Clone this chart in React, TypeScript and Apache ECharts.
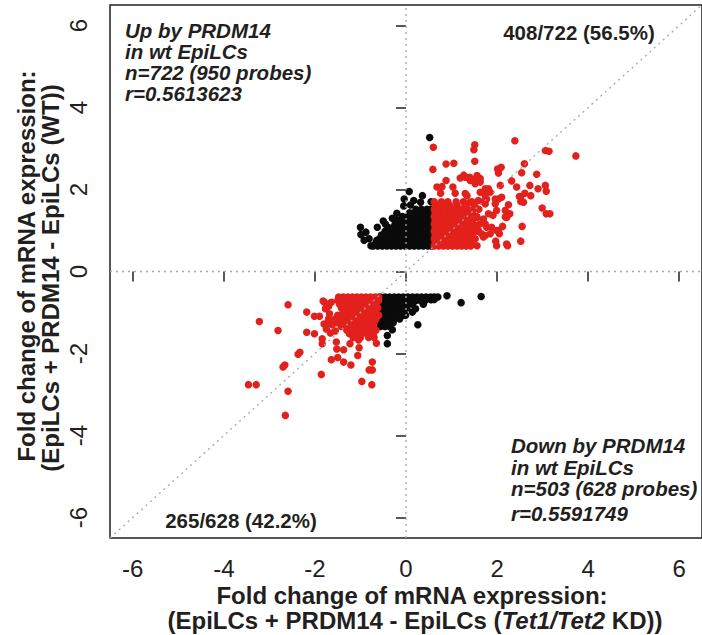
import React, { useEffect, useRef } from "react";
import * as echarts from "echarts";

const tickValues = [-6, -4, -2, 0, 2, 4, 6];
const axisMin = -6.5;
const axisMax = 6.5;

// Up by PRDM14, not up in Tet1/Tet2 KD (black)
const upBlack: number[][] = [
  [-0.72, 0.62], [-0.62, 0.62], [-0.52, 0.62], [-0.42, 0.62], [-0.32, 0.62], [-0.22, 0.62], [-0.12, 0.62], [-0.02, 0.62], [0.08, 0.62], [0.18, 0.62], [0.28, 0.62], [0.38, 0.62], [0.48, 0.62], [0.56, 0.62],
  [-0.66, 0.71], [-0.56, 0.71], [-0.46, 0.71], [-0.36, 0.71], [-0.26, 0.71], [-0.16, 0.71], [-0.06, 0.71], [0.04, 0.71], [0.14, 0.71], [0.24, 0.71], [0.34, 0.71], [0.44, 0.71], [0.54, 0.71],
  [-0.58, 0.8], [-0.48, 0.8], [-0.38, 0.8], [-0.28, 0.8], [-0.18, 0.8], [-0.08, 0.8], [0.02, 0.8], [0.12, 0.8], [0.22, 0.8], [0.32, 0.8], [0.42, 0.8], [0.52, 0.8],
  [-0.54, 0.89], [-0.44, 0.89], [-0.34, 0.89], [-0.24, 0.89], [-0.14, 0.89], [-0.04, 0.89], [0.06, 0.89], [0.16, 0.89], [0.26, 0.89], [0.36, 0.89], [0.46, 0.89], [0.56, 0.89],
  [-0.46, 0.98], [-0.36, 0.98], [-0.26, 0.98], [-0.16, 0.98], [-0.06, 0.98], [0.04, 0.98], [0.14, 0.98], [0.24, 0.98], [0.34, 0.98], [0.44, 0.98], [0.54, 0.98],
  [-0.38, 1.07], [-0.28, 1.07], [-0.18, 1.07], [-0.08, 1.07], [0.02, 1.07], [0.12, 1.07], [0.22, 1.07], [0.32, 1.07], [0.42, 1.07], [0.52, 1.07],
  [-0.24, 1.16], [-0.14, 1.16], [-0.04, 1.16], [0.06, 1.16], [0.16, 1.16], [0.26, 1.16], [0.36, 1.16], [0.46, 1.16], [0.56, 1.16],
  [-0.2, 1.25], [-0.1, 1.25], [0.0, 1.25], [0.1, 1.25], [0.2, 1.25], [0.3, 1.25], [0.4, 1.25], [0.5, 1.25],
  [-0.08, 1.34], [0.04, 1.34], [0.14, 1.34], [0.24, 1.34], [0.34, 1.34], [0.44, 1.34], [0.54, 1.34],
  [0.08, 1.43], [0.2, 1.43], [0.3, 1.43], [0.4, 1.43], [0.5, 1.43],
  [0.22, 1.52], [0.34, 1.52], [0.46, 1.52], [0.55, 1.52],
  [0.52, 3.27], [0.07, 1.95], [-0.04, 1.77], [0.17, 1.73], [0.36, 1.85], [0.32, 1.69], [0.55, 1.7],
  [-1.0, 1.08], [-0.99, 0.9], [-0.88, 0.96], [-0.81, 0.8], [-0.92, 0.76], [-0.77, 0.63], [-0.63, 1.08],
  [-0.5, 1.23], [-0.64, 0.76], [-0.3, 1.3], [-0.45, 1.15], [-0.2, 1.42], [-0.05, 1.6], [0.1, 1.62],
];

// Up by PRDM14, also up in Tet1/Tet2 KD (red)
const upRed: number[][] = [
  [0.62, 0.62], [0.72, 0.62], [0.82, 0.62], [0.92, 0.62], [1.02, 0.62], [1.12, 0.62], [1.22, 0.62], [1.32, 0.62], [1.42, 0.62],
  [0.64, 0.71], [0.74, 0.71], [0.84, 0.71], [0.94, 0.71], [1.04, 0.71], [1.14, 0.71], [1.24, 0.71], [1.34, 0.71], [1.44, 0.71],
  [0.62, 0.8], [0.72, 0.8], [0.82, 0.8], [0.92, 0.8], [1.02, 0.8], [1.12, 0.8], [1.22, 0.8], [1.32, 0.8], [1.42, 0.8], [1.52, 0.8],
  [0.64, 0.89], [0.74, 0.89], [0.84, 0.89], [0.94, 0.89], [1.04, 0.89], [1.14, 0.89], [1.24, 0.89], [1.34, 0.89], [1.46, 0.89],
  [0.62, 0.98], [0.72, 0.98], [0.82, 0.98], [0.92, 0.98], [1.02, 0.98], [1.12, 0.98], [1.22, 0.98], [1.32, 0.98], [1.42, 0.98], [1.58, 0.98],
  [0.64, 1.07], [0.74, 1.07], [0.84, 1.07], [0.94, 1.07], [1.04, 1.07], [1.14, 1.07], [1.24, 1.07], [1.36, 1.07], [1.5, 1.07],
  [0.62, 1.16], [0.72, 1.16], [0.82, 1.16], [0.92, 1.16], [1.02, 1.16], [1.12, 1.16], [1.22, 1.16], [1.34, 1.16], [1.62, 1.16],
  [0.64, 1.25], [0.74, 1.25], [0.84, 1.25], [0.96, 1.25], [1.06, 1.25], [1.18, 1.25], [1.3, 1.25], [1.45, 1.25],
  [0.62, 1.34], [0.72, 1.34], [0.84, 1.34], [0.94, 1.34], [1.08, 1.34], [1.2, 1.34], [1.38, 1.34], [1.55, 1.34],
  [0.64, 1.43], [0.76, 1.43], [0.88, 1.43], [1.0, 1.43], [1.14, 1.43], [1.28, 1.43], [1.46, 1.43],
  [0.62, 1.52], [0.74, 1.52], [0.9, 1.52], [1.04, 1.52], [1.2, 1.52], [1.36, 1.52], [1.6, 1.52],
  [0.66, 1.61], [0.8, 1.61], [0.96, 1.61], [1.12, 1.61], [1.3, 1.61], [1.5, 1.61],
  [0.62, 1.7], [0.78, 1.7], [0.92, 1.7], [1.1, 1.7], [1.26, 1.7], [1.45, 1.7], [1.7, 1.7],
  [0.6, 3.03], [1.51, 3.09], [1.49, 2.97], [2.39, 3.19], [3.06, 2.95], [3.14, 2.93], [3.73, 2.82],
  [0.88, 2.62], [1.05, 2.64], [1.51, 2.69], [0.59, 2.49], [2.09, 2.54], [2.01, 2.5], [2.03, 2.4],
  [2.6, 2.63], [2.54, 2.41], [2.87, 2.37], [1.27, 2.35], [1.19, 2.28], [1.4, 2.3], [1.52, 2.25],
  [1.63, 2.27], [0.88, 2.22], [2.32, 2.21], [2.43, 2.06], [2.72, 2.1], [2.9, 2.02], [3.06, 2.1],
  [3.08, 1.96], [2.52, 1.83], [2.74, 1.85], [2.58, 1.69], [2.99, 1.55], [3.08, 1.41], [3.16, 1.41],
  [2.55, 1.1], [2.52, 0.74], [2.23, 0.63], [1.97, 0.74], [2.07, 2.1], [0.68, 2.06], [0.79, 2.07],
  [0.76, 1.91], [1.03, 2.06], [1.08, 1.91], [1.3, 1.9], [1.74, 2.02], [1.85, 1.93], [1.77, 1.77],
  [1.96, 1.77], [2.1, 1.81], [2.25, 1.63], [2.28, 1.41], [2.18, 1.33], [1.88, 1.08], [2.03, 1.0],
  [1.85, 0.92], [1.74, 0.88], [2.49, 1.83], [2.61, 1.91], [2.52, 1.71], [2.21, 0.67], [2.12, 1.1],
  [1.99, 1.0], [2.05, 0.92], [2.18, 1.49], [2.21, 1.32], [1.99, 1.49], [1.91, 1.37], [1.81, 1.41],
  [2.03, 1.77], [1.96, 1.65], [1.74, 1.65], [1.63, 1.93], [1.81, 2.02], [1.74, 1.85], [1.59, 1.73],
  [1.52, 2.14], [1.63, 2.18], [1.41, 2.22], [1.3, 2.3], [1.56, 2.34], [1.34, 1.85], [1.41, 1.69],
  [1.52, 1.57], [1.45, 1.45], [1.56, 1.32], [1.7, 1.28], [1.77, 1.08], [1.66, 0.92], [1.59, 1.0],
  [1.7, 0.84], [1.48, 1.16], [1.34, 1.24], [1.37, 1.0], [1.41, 0.76], [1.56, 0.63], [1.99, 0.63],
  [1.74, 1.16],
];

// Down by PRDM14, not down in Tet1/Tet2 KD (black)
const downBlack: number[][] = [
  [-0.56, -0.62], [-0.46, -0.62], [-0.36, -0.62], [-0.26, -0.62], [-0.16, -0.62], [-0.06, -0.62], [0.04, -0.62], [0.14, -0.62], [0.24, -0.62], [0.34, -0.62], [0.44, -0.62], [0.54, -0.62], [0.62, -0.62],
  [-0.58, -0.71], [-0.48, -0.71], [-0.38, -0.71], [-0.28, -0.71], [-0.18, -0.71], [-0.08, -0.71], [0.02, -0.71], [0.12, -0.71], [0.22, -0.71], [0.32, -0.71], [0.42, -0.71],
  [-0.56, -0.8], [-0.46, -0.8], [-0.36, -0.8], [-0.26, -0.8], [-0.16, -0.8], [-0.06, -0.8], [0.04, -0.8], [0.14, -0.8],
  [-0.58, -0.89], [-0.48, -0.89], [-0.38, -0.89], [-0.28, -0.89], [-0.18, -0.89], [-0.08, -0.89], [0.02, -0.89],
  [-0.56, -0.98], [-0.46, -0.98], [-0.36, -0.98], [-0.26, -0.98], [-0.16, -0.98], [-0.06, -0.98],
  [-0.58, -1.07], [-0.48, -1.07], [-0.38, -1.07], [-0.28, -1.07], [-0.18, -1.07], [-0.06, -1.07],
  [-0.56, -1.16], [-0.46, -1.16], [-0.36, -1.16], [-0.26, -1.16], [-0.14, -1.16],
  [-0.58, -1.25], [-0.48, -1.25], [-0.38, -1.25], [-0.28, -1.25],
  [-0.56, -1.34], [-0.46, -1.34], [-0.36, -1.34],
  [0.9, -0.59], [1.21, -0.76], [1.65, -0.61], [0.26, -1.3], [-0.41, -1.56], [-0.41, -1.76], [-0.3, -1.42],
  [-0.01, -1.07], [0.14, -0.99], [0.21, -0.91], [0.38, -0.8], [0.55, -0.69], [0.7, -0.62], [0.62, -0.68],
];

// Down by PRDM14, also down in Tet1/Tet2 KD (red)
const downRed: number[][] = [
  [-1.48, -0.62], [-1.38, -0.62], [-1.28, -0.62], [-1.18, -0.62], [-1.08, -0.62], [-0.98, -0.62], [-0.88, -0.62], [-0.78, -0.62], [-0.68, -0.62], [-0.6, -0.62],
  [-1.5, -0.71], [-1.4, -0.71], [-1.3, -0.71], [-1.2, -0.71], [-1.1, -0.71], [-1.0, -0.71], [-0.9, -0.71], [-0.8, -0.71], [-0.7, -0.71], [-0.6, -0.71],
  [-1.46, -0.8], [-1.36, -0.8], [-1.26, -0.8], [-1.16, -0.8], [-1.06, -0.8], [-0.96, -0.8], [-0.86, -0.8], [-0.76, -0.8], [-0.66, -0.8],
  [-1.42, -0.89], [-1.32, -0.89], [-1.22, -0.89], [-1.12, -0.89], [-1.02, -0.89], [-0.92, -0.89], [-0.82, -0.89], [-0.72, -0.89], [-0.62, -0.89],
  [-1.38, -0.98], [-1.28, -0.98], [-1.18, -0.98], [-1.08, -0.98], [-0.98, -0.98], [-0.88, -0.98], [-0.78, -0.98], [-0.68, -0.98],
  [-1.5, -1.07], [-1.4, -1.07], [-1.3, -1.07], [-1.2, -1.07], [-1.1, -1.07], [-1.0, -1.07], [-0.9, -1.07], [-0.8, -1.07], [-0.7, -1.07], [-0.6, -1.07],
  [-1.56, -1.16], [-1.46, -1.16], [-1.36, -1.16], [-1.26, -1.16], [-1.16, -1.16], [-1.06, -1.16], [-0.96, -1.16], [-0.86, -1.16], [-0.76, -1.16], [-0.66, -1.16],
  [-1.6, -1.25], [-1.5, -1.25], [-1.4, -1.25], [-1.3, -1.25], [-1.2, -1.25], [-1.1, -1.25], [-1.0, -1.25], [-0.9, -1.25], [-0.8, -1.25], [-0.7, -1.25],
  [-1.42, -1.34], [-1.32, -1.34], [-1.22, -1.34], [-1.12, -1.34], [-1.02, -1.34], [-0.92, -1.34], [-0.82, -1.34], [-0.72, -1.34],
  [-1.3, -1.43], [-1.2, -1.43], [-1.06, -1.43], [-0.96, -1.43], [-0.86, -1.43], [-0.76, -1.43], [-0.66, -1.43],
  [-1.24, -1.52], [-1.1, -1.52], [-0.96, -1.52], [-0.84, -1.52], [-0.72, -1.52],
  [-1.16, -1.61], [-1.0, -1.61], [-0.82, -1.61], [-0.7, -1.61],
  [-1.7, -1.15], [-1.62, -1.3], [-1.75, -1.4], [-1.66, -1.5], [-1.8, -1.28], [-1.55, -1.45],
  [-1.82, -0.72], [-1.7, -0.85],
  [-2.59, -0.81], [-3.22, -1.22], [-2.81, -1.44], [-2.18, -0.99], [-2.01, -1.09], [-1.9, -1.09], [-1.79, -0.75],
  [-1.77, -0.91], [-1.68, -1.03], [-1.64, -0.75], [-2.18, -1.48], [-2.01, -1.52], [-1.84, -1.64], [-1.84, -1.76],
  [-2.33, -1.97], [-2.37, -2.02], [-2.66, -2.28], [-2.7, -2.33], [-3.46, -2.76], [-3.29, -2.76], [-2.59, -2.92],
  [-2.65, -3.51], [-1.86, -2.51], [-1.64, -2.15], [-1.5, -2.1], [-1.53, -1.72], [-1.52, -1.89], [-1.37, -1.91],
  [-1.23, -1.76], [-1.37, -2.21], [-1.21, -2.28], [-1.06, -2.05], [-1.03, -1.86], [-0.74, -2.21], [-0.81, -2.4],
  [-0.74, -2.4], [-0.97, -2.68], [-0.75, -2.76], [-0.65, -1.75], [-1.04, -1.67], [-1.57, -1.24], [-1.75, -1.28],
];

const diagonalLine: number[][] = [[-6.5, -6.5], [6.5, 6.5]];
const zeroHLine: number[][] = [[-6.5, 0], [6.5, 0]];
const zeroVLine: number[][] = [[0, -6.5], [0, 6.5]];

const upLabels = ["Up by PRDM14", "in wt EpiLCs", "n=722 (950 probes)", "r=0.5613623"];
const downLabels = ["Down by PRDM14", "in wt EpiLCs", "n=503 (628 probes)"];
const downR = "r=0.5591749";
const upRatio = "408/722 (56.5%)";
const downRatio = "265/628 (42.2%)";
const xTitle1 = "Fold change of mRNA expression:";
const yTitle1 = "Fold change of mRNA expression:";
const yTitle2 = "(EpiLCs + PRDM14 - EpiLCs (WT))";

const FONT = '"Liberation Sans", Arial, Helvetica, sans-serif';
const INK = "#231f20";
const RED = "#e3211c";
const BLACK = "#0b0b0b";

export default function App() {
  const ref = useRef<HTMLDivElement>(null);
  useEffect(() => {
    document.body.style.margin = "0";
    const chart = echarts.init(ref.current!, null, { renderer: "svg" });
    const txt = (text: string, x: number, y: number, opts: any = {}) => ({
      type: "text",
      x,
      y,
      silent: true,
      rotation: opts.rotation || 0,
      style: {
        text,
        fill: INK,
        fontFamily: FONT,
        fontSize: opts.fontSize || 20.5,
        lineHeight: opts.lineHeight || 20,
        fontWeight: "bold",
        fontStyle: opts.italic ? "italic" : "normal",
        align: opts.align || "left",
        verticalAlign: "middle",
      },
    });
    const graphics: any[] = [
      txt(upLabels.join("\n"), 125, 62, { italic: true, lineHeight: 21.3 }),
      txt(downLabels.join("\n"), 511, 467, { italic: true, lineHeight: 21.5 }),
      txt(downR, 511, 513, { italic: true }),
      txt(upRatio, 579, 32, { align: "center" }),
      txt(downRatio, 241, 520, { align: "center" }),
      txt(xTitle1, 412, 595, { align: "center", fontSize: 24, lineHeight: 24 }),
      {
        type: "text",
        x: 415,
        y: 620,
        silent: true,
        style: {
          text: "{n|(EpiLCs + PRDM14 - EpiLCs (}{i|Tet1/Tet2}{n| KD))}",
          align: "center",
          verticalAlign: "middle",
          fill: INK,
          rich: {
            n: { fontFamily: FONT, fontSize: 24, lineHeight: 24, fontWeight: "bold", fill: INK },
            i: { fontFamily: FONT, fontSize: 24, lineHeight: 24, fontWeight: "bold", fontStyle: "italic", fill: INK },
          },
        },
      },
      txt(yTitle1, 26, 266, { align: "center", fontSize: 24, lineHeight: 24, rotation: Math.PI / 2 }),
      txt(yTitle2, 50, 278, { align: "center", fontSize: 24, lineHeight: 24, rotation: Math.PI / 2 }),
    ];
    const refLine = (data: number[][]) => ({
      type: "line",
      data,
      symbol: "none",
      silent: true,
      z: 5,
      lineStyle: { color: "#a8a8a8", width: 1.3, type: [2, 4] },
    });
    const scatter = (data: number[][], color: string) => ({
      type: "scatter",
      data,
      symbol: "circle",
      symbolSize: 7.5,
      silent: true,
      z: 3,
      itemStyle: { color, opacity: 1 },
    });
    const axisCommon = {
      type: "value",
      min: axisMin,
      max: axisMax,
      axisLine: { show: false },
      splitLine: { show: false },
      axisTick: {
        show: true,
        customValues: tickValues,
        length: 10,
        lineStyle: { color: INK, width: 1.5 },
      },
    };
    chart.setOption({
      animation: false,
      backgroundColor: "#ffffff",
      grid: {
        left: 110,
        top: 5,
        width: 596,
        height: 533,
        show: true,
        borderColor: INK,
        borderWidth: 1.5,
        containLabel: false,
      },
      xAxis: {
        ...axisCommon,
        axisLabel: {
          customValues: tickValues,
          fontSize: 24,
          color: INK,
          fontFamily: FONT,
          margin: 18,
        },
      },
      yAxis: {
        ...axisCommon,
        axisLabel: {
          customValues: tickValues,
          fontSize: 24,
          color: INK,
          fontFamily: FONT,
          rotate: 90,
          margin: 20,
        },
      },
      series: [
        scatter(upBlack, BLACK),
        scatter(upRed, RED),
        scatter(downBlack, BLACK),
        scatter(downRed, RED),
        refLine(diagonalLine),
        refLine(zeroHLine),
        refLine(zeroVLine),
      ],
      graphic: graphics,
    });
    return () => chart.dispose();
  }, []);
  return <div ref={ref} style={{ width: 702, height: 635 }} />;
}
